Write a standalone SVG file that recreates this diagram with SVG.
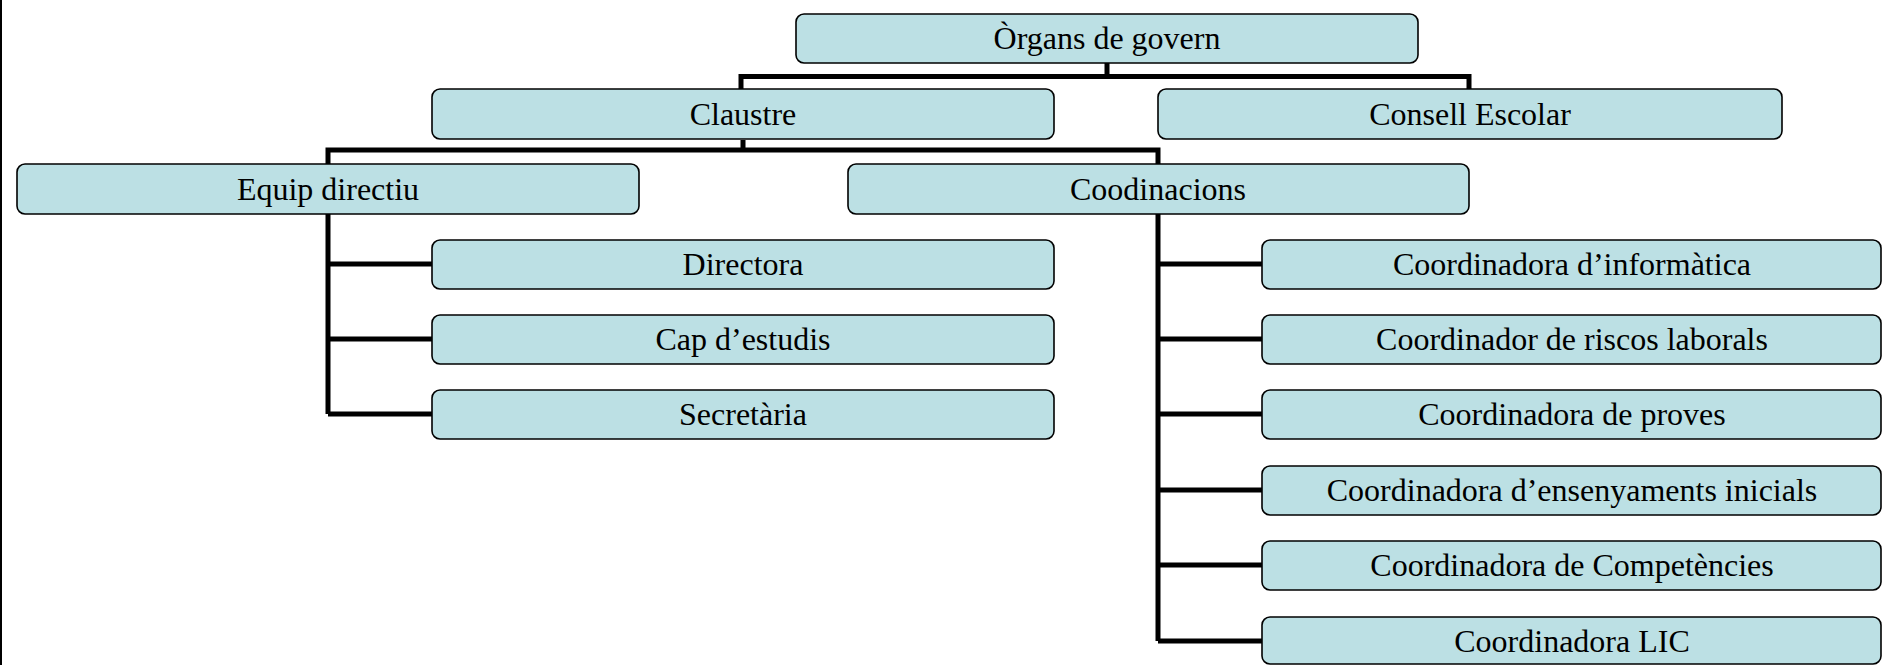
<svg xmlns="http://www.w3.org/2000/svg" width="1883" height="665" viewBox="0 0 1883 665">
<style>
.box{fill:#BCE0E4;stroke:#000;stroke-width:1.6}
.t{font-family:"Liberation Serif","Times New Roman",serif;font-size:32px;fill:#000;text-anchor:middle}
.c{fill:none;stroke:#000;stroke-width:5}
</style>
<rect x="0" y="0" width="2" height="665" fill="#000"/>
<g id="connectors">
<path class="c" d="M1107 63V76.5M741 89V76.5H1469V89"/>
<path class="c" d="M743 140V150M328 164V150H1158V164"/>
<path class="c" d="M328 214V414M328 264H432M328 339H432M328 414H432"/>
<path class="c" d="M1158 214V641M1158 264H1262M1158 339H1262M1158 414H1262M1158 490H1262M1158 565H1262M1158 641H1262"/>
</g>
<g id="n-organs"><rect class="box" x="796" y="14" width="622" height="49" rx="8"/><text class="t" x="1107" y="49">Òrgans de govern</text></g>
<g id="n-claustre"><rect class="box" x="432" y="89" width="622" height="50" rx="8"/><text class="t" x="743" y="125">Claustre</text></g>
<g id="n-consell"><rect class="box" x="1158" y="89" width="624" height="50" rx="8"/><text class="t" x="1470" y="125">Consell Escolar</text></g>
<g id="n-equip"><rect class="box" x="17" y="164" width="622" height="50" rx="8"/><text class="t" x="328" y="200">Equip directiu</text></g>
<g id="n-coodinacions"><rect class="box" x="848" y="164" width="621" height="50" rx="8"/><text class="t" x="1158" y="200">Coodinacions</text></g>
<g id="n-directora"><rect class="box" x="432" y="240" width="622" height="49" rx="8"/><text class="t" x="743" y="275">Directora</text></g>
<g id="n-cap"><rect class="box" x="432" y="315" width="622" height="49" rx="8"/><text class="t" x="743" y="350">Cap d’estudis</text></g>
<g id="n-secretaria"><rect class="box" x="432" y="390" width="622" height="49" rx="8"/><text class="t" x="743" y="425">Secretària</text></g>
<g id="n-informatica"><rect class="box" x="1262" y="240" width="619" height="49" rx="8"/><text class="t" x="1572" y="275">Coordinadora d’informàtica</text></g>
<g id="n-riscos"><rect class="box" x="1262" y="315" width="619" height="49" rx="8"/><text class="t" x="1572" y="350">Coordinador de riscos laborals</text></g>
<g id="n-proves"><rect class="box" x="1262" y="390" width="619" height="49" rx="8"/><text class="t" x="1572" y="425">Coordinadora de proves</text></g>
<g id="n-ensenyaments"><rect class="box" x="1262" y="466" width="619" height="49" rx="8"/><text class="t" x="1572" y="501">Coordinadora d’ensenyaments inicials</text></g>
<g id="n-competencies"><rect class="box" x="1262" y="541" width="619" height="49" rx="8"/><text class="t" x="1572" y="576">Coordinadora de Competències</text></g>
<g id="n-lic"><rect class="box" x="1262" y="617" width="619" height="47" rx="8"/><text class="t" x="1572" y="652">Coordinadora LIC</text></g>
</svg>
